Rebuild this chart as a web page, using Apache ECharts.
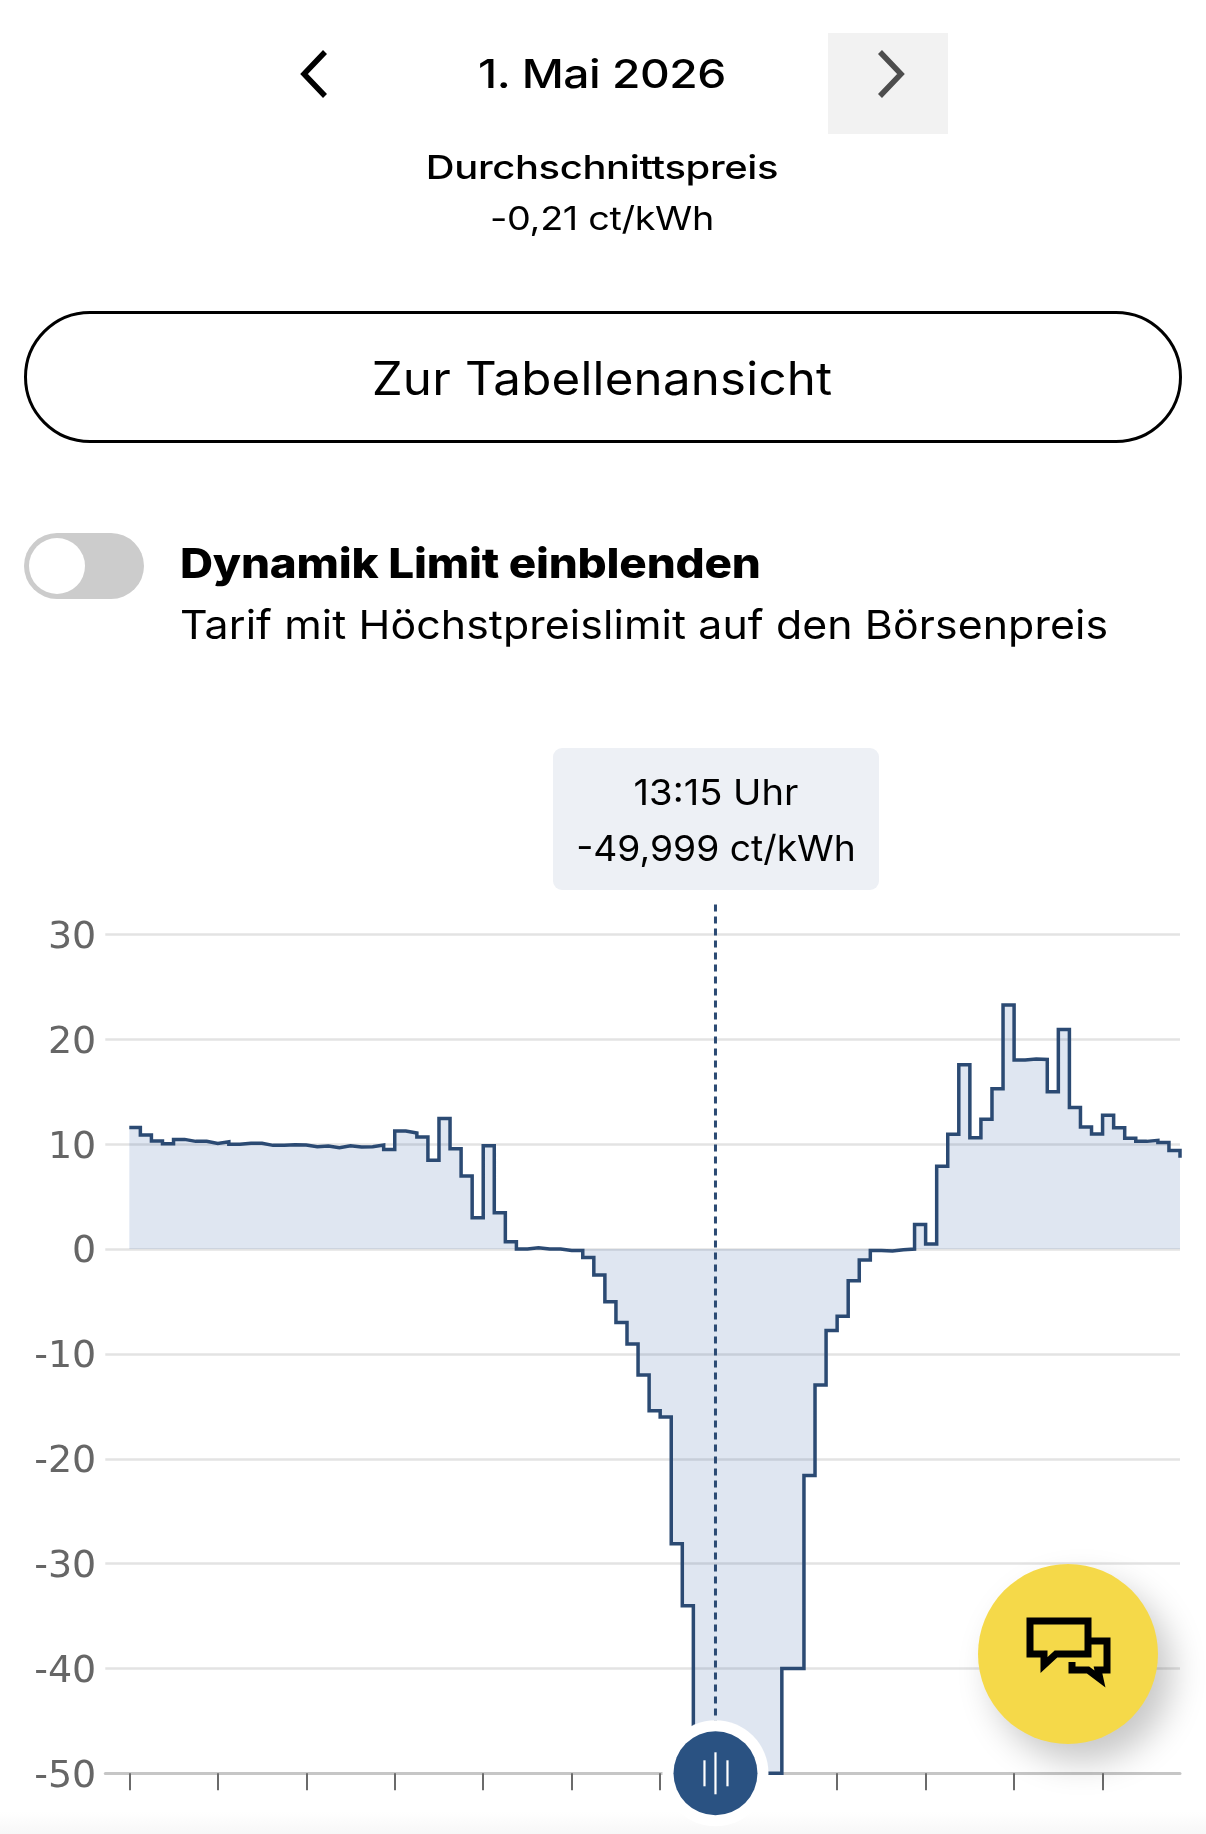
<!DOCTYPE html>
<html lang="de"><head><meta charset="utf-8">
<style>
html,body{margin:0;padding:0;background:#fff;width:1206px;height:1834px;overflow:hidden;font-family:Inter,"Noto Sans",sans-serif;color:#000}
#chart{position:absolute;left:0;top:0;width:1206px;height:1834px}
.t{position:absolute;white-space:nowrap;line-height:1;transform:translateY(-50%) scaleX(var(--k,1));transform-origin:left center}
.c{text-align:center;transform-origin:center center}
.box{position:absolute}
#fade{position:absolute;left:0;top:1812px;width:1206px;height:22px;background:linear-gradient(#fff,#f7f7f7)}
</style>
<script src="https://cdn.jsdelivr.net/npm/echarts@6/dist/echarts.min.js"></script>
</head><body>
<div id="fade"></div>
<div id="chart"></div>

<svg class="box" style="left:298px;top:48px" width="34" height="52"><path d="M27 4 L6 26 L27 48" fill="none" stroke="#000" stroke-width="5.5"/></svg>
<div class="t c" style="--k:1.153;left:402px;width:400px;top:74px;font-size:40px;font-weight:500;letter-spacing:-.4px">1. Mai 2026</div>
<div class="box" style="left:828px;top:33px;width:120px;height:101px;background:#f2f2f2"></div>
<svg class="box" style="left:873px;top:48px" width="34" height="52"><path d="M7 4 L28 26 L7 48" fill="none" stroke="#4d4d4d" stroke-width="5.5"/></svg>
<div class="t c" style="--k:1.21;left:402px;width:400px;top:167px;font-size:33px;font-weight:500;letter-spacing:-.3px">Durchschnittspreis</div>
<div class="t c" style="--k:1.145;left:402px;width:400px;top:218px;font-size:33px;letter-spacing:-.3px">-0,21 ct/kWh</div>
<div class="box" style="left:24px;top:311px;width:1158px;height:132px;box-sizing:border-box;border:3px solid #000;border-radius:66px"></div>
<div class="t c" style="--k:1.07;left:202px;width:800px;top:378px;font-size:46px;letter-spacing:.2px">Zur Tabellenansicht</div>
<div class="box" style="left:24px;top:533px;width:120px;height:66px;border-radius:33px;background:#ccc"></div>
<div class="box" style="left:29px;top:538px;width:56px;height:56px;border-radius:28px;background:#fff"></div>
<div class="t" style="--k:1.117;left:180px;top:563px;font-size:41px;font-weight:800;letter-spacing:-.2px">Dynamik Limit einblenden</div>
<div class="t" style="--k:1.07;left:180px;top:625px;font-size:40px;letter-spacing:.1px">Tarif mit Höchstpreislimit auf den Börsenpreis</div>
<div class="box" style="left:553px;top:748px;width:326px;height:142px;border-radius:9px;background:#edf0f5"></div>
<div class="t c" style="--k:1.06;left:553px;width:326px;top:792px;font-size:36px">13:15 Uhr</div>
<div class="t c" style="--k:1.035;left:553px;width:326px;top:848px;font-size:36px">-49,999 ct/kWh</div>

<div class="box" style="left:978px;top:1564px;width:180px;height:180px;border-radius:90px;background:#f5d949;box-shadow:14px 18px 34px rgba(0,0,0,.22)"></div>
<svg class="box" style="left:1020px;top:1610px" width="100" height="80">
  <path d="M70 31 H87 V60 H78 L80 69 L68 60 H52 V52" fill="none" stroke="#000" stroke-width="7"/>
  <path d="M10 11 H68 V44 H36 L24 55 V44 H10 Z" fill="none" stroke="#000" stroke-width="7"/>
</svg>

<script>
// Quarter-hour prices in ct/kWh
const pricesNight = [11.6,10.87,10.3,10.05,10.46,10.27,10.27,10.08,10.24,10.0,10.08,10.08,9.89,9.89,9.95,9.92,9.76,9.82,9.67,9.86,9.73,9.76,9.92,9.5];
const pricesMorning = [11.26,11.07,10.68,8.46,12.46,9.57,6.96,2.99,9.86,3.47,0.7,0.0,0.13,0.0,0.0,-0.13,-0.13,-0.8,-2.48,-5.02,-7.0,-9.06,-12.02,-15.42,-16.03];
const pricesNoon = [-28.1,-34.03,-50,-50,-49.999,-50,-50,-50,-50,-50,-40,-40,-21.6,-12.97,-7.76,-6.42,-3.02,-1.05];
const pricesEvening = [-0.13,-0.19,-0.06,0.0,2.35,0.48,7.89,10.94,17.58,10.62,12.37,15.29,23.27,18.03,18.12,18.09,15.0,20.95,13.51,11.64,10.97,12.75,11.57,10.56,10.27,10.37,10.17,9.41,8.71];
const prices = pricesNight.concat(pricesMorning, pricesNoon, pricesEvening);
const quarterHours = prices.map((_, i) => i / 4);
const tickHours = [0,2,4,6,8,10,12,14,16,18,20,22];
const selectedHour = [13.25];

const chart = echarts.init(document.getElementById('chart'), null, {renderer:'canvas'});
chart.setOption({
  animation:false,
  backgroundColor:'transparent',
  grid:{left:105.3,right:26,top:934.5,bottom:60.7,containLabel:false},
  xAxis:{type:'value',min:-0.5425,max:23.75,
    splitLine:{show:false},axisLabel:{show:false},
    axisLine:{show:true,onZero:false,lineStyle:{color:'#c6c6c6',width:3}},
    axisTick:{show:true,customValues:tickHours,length:17,lineStyle:{color:'#6b6b6b',width:2}}},
  yAxis:{type:'value',min:-50,max:30,interval:10,
    axisLine:{show:false},axisTick:{show:false},
    axisLabel:{color:'#666',fontFamily:'DejaVu Sans',fontSize:38,margin:9,verticalAlign:'top',lineHeight:7},
    splitLine:{lineStyle:{color:'#e3e3e3',width:2.5}}},
  series:[
    {type:'line',step:'end',clip:false,showSymbol:false,symbol:'none',z:3,
      data:quarterHours.map((h,i)=>[h,prices[i]]),
      lineStyle:{color:'#2b4a73',width:3.5,cap:'butt',join:'miter'},
      areaStyle:{color:'rgba(55,99,167,0.16)',opacity:1,origin:0}},
    {type:'custom',clip:false,z:5,silent:true,
      data:selectedHour.map(h=>[h]),
      renderItem:function(p,api){
        const top=api.coord([api.value(0),30]);
        const bot=api.coord([api.value(0),-50]);
        const x=top[0],yb=bot[1];
        return {type:'group',children:[
          {type:'line',shape:{x1:x,y1:top[1]-30,x2:x,y2:yb},
            style:{stroke:'#2b4a73',lineWidth:3,lineDash:[7,5]}},
          {type:'circle',shape:{cx:x,cy:yb,r:53},style:{fill:'#fff'}},
          {type:'circle',shape:{cx:x,cy:yb,r:42},style:{fill:'#2a5282'}},
          {type:'line',shape:{x1:x-11,y1:yb-13,x2:x-11,y2:yb+13},style:{stroke:'#fff',lineWidth:2.2}},
          {type:'line',shape:{x1:x,y1:yb-21,x2:x,y2:yb+21},style:{stroke:'#fff',lineWidth:2.2}},
          {type:'line',shape:{x1:x+12,y1:yb-13,x2:x+12,y2:yb+13},style:{stroke:'#fff',lineWidth:2.2}}
        ]};
      }}
  ]
});
</script>
</body></html>
